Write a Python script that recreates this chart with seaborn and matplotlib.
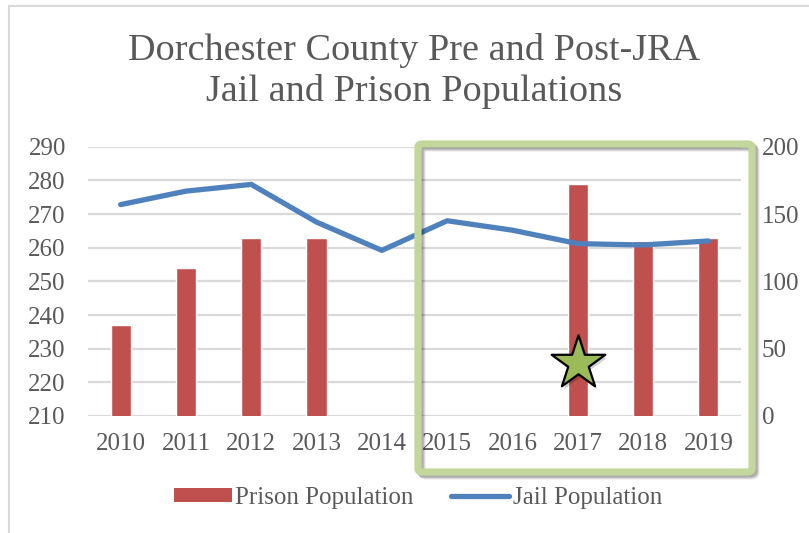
import numpy as np
import pandas as pd
import matplotlib
matplotlib.use("Agg")
import matplotlib.pyplot as plt
import seaborn as sns
from matplotlib.patches import Patch, FancyBboxPatch
from matplotlib.lines import Line2D

# --- data -------------------------------------------------------------
years = ["2010", "2011", "2012", "2013", "2014", "2015", "2016", "2017", "2018", "2019"]
prison_population = [237, 254, 263, 263, np.nan, np.nan, np.nan, 279, 262, 263]
jail_population = [157, 167, 172, 144, 123, 145, 138, 128, 127, 130]
left_ticks = [210, 220, 230, 240, 250, 260, 270, 280, 290]
right_ticks = [0, 50, 100, 150, 200]

title = "Dorchester County Pre and Post-JRA\nJail and Prison Populations"

# --- style ------------------------------------------------------------
sns.set_theme(style="white")
plt.rcParams["font.family"] = ["Liberation Serif", "DejaVu Serif"]
TEXT = "#595959"
GRID = "#d9d9d9"
BAR = "#c0504d"
LINE = "#4f81bd"

W, H = 809, 533
fig = plt.figure(figsize=(W / 100, H / 100), dpi=100)
ax = fig.add_axes([88 / W, 1 - 416 / H, (741 - 88) / W, (416 - 146.7) / H])

df = pd.DataFrame({"year": years, "prison": prison_population})
sns.barplot(data=df, x="year", y="prison", order=years, color=BAR,
            saturation=1, width=0.31, ax=ax, zorder=2)
ax.set_ylim(210, 290)
ax.set_yticks(left_ticks)
ax.set_xlim(-0.5, len(years) - 0.5)
ax.yaxis.grid(True, color=GRID, linewidth=1.6, zorder=0)
ax.set_axisbelow(True)
ax.set_xlabel("")
ax.set_ylabel("")
for s in ax.spines.values():
    s.set_visible(False)
ax.tick_params(axis="both", length=0, labelsize=18, labelcolor=TEXT)
ax.tick_params(axis="x", pad=12)
ax.tick_params(axis="y", pad=16)

ax2 = ax.twinx()
sns.lineplot(x=np.arange(len(years)), y=jail_population, color=LINE,
             linewidth=3.8, ax=ax2, solid_capstyle="round",
             solid_joinstyle="round", zorder=3)
ax2.set_ylim(0, 200)
ax2.set_yticks(right_ticks)
ax2.set_xlim(-0.5, len(years) - 0.5)
for s in ax2.spines.values():
    s.set_visible(False)
ax2.tick_params(axis="y", length=0, labelsize=18, labelcolor=TEXT, pad=15)
ax2.set_ylabel("")

# star marker on the 2017 bar, with a faint drop shadow
star_x = years.index("2017")
ax.scatter([star_x + 0.03], [224.9], marker="*", s=1650, color="black",
           alpha=0.18, linewidth=0, zorder=4)
ax.scatter([star_x], [225.7], marker="*", s=1650,
           color="#9bbb59", edgecolor="black", linewidth=1.6, zorder=5)

fig.text(414.5 / W, 1 - 71 / H, title, ha="center", va="center",
         fontsize=27.5, color=TEXT, linespacing=1.2)

# green highlight frame around 2015-2019, with a soft shadow
x0, y0, x1, y1 = 418, 144, 752, 472
for off, a in [(4, 0.10), (3, 0.12), (2, 0.14)]:
    fig.patches.append(FancyBboxPatch(
        ((x0 + off) / W, 1 - (y1 + off) / H), (x1 - x0) / W, (y1 - y0) / H,
        boxstyle="round,pad=0,rounding_size=0.006", transform=fig.transFigure,
        fill=False, edgecolor="black", alpha=a, linewidth=5, zorder=8))
fig.patches.append(FancyBboxPatch(
    (x0 / W, 1 - y1 / H), (x1 - x0) / W, (y1 - y0) / H,
    boxstyle="round,pad=0,rounding_size=0.006", transform=fig.transFigure,
    fill=False, edgecolor="#c3d69b", linewidth=5.2, zorder=9))

# chart frame (top and left edges)
fig.add_artist(Line2D([9 / W, 1], [1 - 6 / H, 1 - 6 / H], transform=fig.transFigure,
                      color=GRID, linewidth=1.5))
fig.add_artist(Line2D([9 / W, 9 / W], [0, 1 - 6 / H], transform=fig.transFigure,
                      color=GRID, linewidth=1.5))

handles = [Patch(facecolor=BAR, edgecolor="none", label="Prison Population"),
           Line2D([], [], color=LINE, linewidth=3.8, solid_capstyle="round",
                  label="Jail Population")]
leg = fig.legend(handles=handles, loc="center", bbox_to_anchor=(418 / W, 1 - 498 / H),
                 ncol=2, frameon=False, fontsize=18, handlelength=2.3,
                 handleheight=0.45, handletextpad=0.15, columnspacing=1.5,
                 borderaxespad=0, borderpad=0)
for t in leg.get_texts():
    t.set_color(TEXT)

fig.savefig("out.png", dpi=100)
